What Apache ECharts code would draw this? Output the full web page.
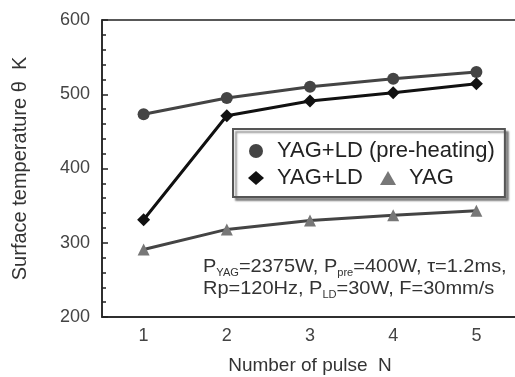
<!DOCTYPE html>
<html><head><meta charset="utf-8">
<script src="https://cdn.jsdelivr.net/npm/echarts@6/dist/echarts.min.js"></script>
<style>html,body{margin:0;padding:0;background:#fff}#c{width:515px;height:377px}</style>
</head><body><div id="c"></div>
<script>
var categories = ['1','2','3','4','5'];
var preHeating = [473, 495, 510, 521, 530];
var yagLd = [331, 471, 491, 502, 514];
var yag = [291, 318, 330, 337, 343];
var yTicks = [200, 300, 400, 500, 600];

var chart = echarts.init(document.getElementById('c'));
var font = 'Liberation Sans, Arial, sans-serif';
chart.setOption({
  animation: false,
  backgroundColor: '#fff',
  grid: {left: 102, top: 20, width: 416, height: 297, outerBoundsMode: 'none', containLabel: false,
         show: true, borderColor: '#222', borderWidth: 1.5, backgroundColor: 'transparent'},
  xAxis: {
    type: 'category', data: categories, boundaryGap: true,
    name: 'Number of pulse  N', nameLocation: 'middle', nameGap: 39,
    nameTextStyle: {fontFamily: font, fontSize: 19, color: '#333'},
    axisLine: {lineStyle: {color: '#222', width: 1.5}},
    axisTick: {inside: true, alignWithLabel: true, length: 5, lineStyle: {color: '#222', width: 1.5}},
    axisLabel: {fontFamily: font, fontSize: 18, color: '#444', margin: 10}
  },
  yAxis: {
    type: 'value', min: yTicks[0], max: yTicks[yTicks.length-1], interval: 100,
    name: 'Surface temperature θ  K', nameLocation: 'middle', nameGap: 72,
    nameTextStyle: {fontFamily: font, fontSize: 20, color: '#333'},
    axisLine: {show: true, lineStyle: {color: '#222', width: 1.5}},
    axisTick: {show: true, inside: true, length: 6, lineStyle: {color: '#222', width: 1.5}},
    minorTick: {show: true, splitNumber: 5, length: 4, lineStyle: {color: '#222', width: 1.5}},
    splitLine: {show: false},
    axisLabel: {fontFamily: font, fontSize: 18, color: '#444', margin: 12}
  },
  legend: {
    left: 233, top: 129, width: 272, orient: 'horizontal', align: 'left',
    padding: [11, 10, 8, 15], itemGap: 5, itemWidth: 16, itemHeight: 14,
    backgroundColor: '#fff', borderColor: '#555', borderWidth: 2,
    shadowColor: 'rgba(0,0,0,0.4)', shadowBlur: 2, shadowOffsetX: 3, shadowOffsetY: 3,
    textStyle: {fontFamily: font, fontSize: 22, color: '#222', padding: [0, 0, 0, 8]},
    formatter: function (name) { return name === 'YAG+LD' ? name + '  ' : name; },
    data: [
      {name: 'YAG+LD (pre-heating)', icon: 'circle'},
      {name: 'YAG+LD', icon: 'diamond'},
      {name: 'YAG', icon: 'triangle'}
    ]
  },
  series: [
    {name: 'YAG+LD (pre-heating)', type: 'line', data: preHeating, symbol: 'circle', symbolSize: 12,
     lineStyle: {color: '#444', width: 3}, itemStyle: {color: '#444'}},
    {name: 'YAG+LD', type: 'line', data: yagLd, symbol: 'diamond', symbolSize: 13,
     lineStyle: {color: '#111', width: 3}, itemStyle: {color: '#111'}},
    {name: 'YAG', type: 'line', data: yag, symbol: 'triangle', symbolSize: 12,
     lineStyle: {color: '#444', width: 3}, itemStyle: {color: '#777'}}
  ],
  graphic: [{
    type: 'text', left: 203, top: 256, scaleX: 1.11,
    style: {
      text: 'P{s|YAG}=2375W, P{s|pre}=400W, τ=1.2ms,\nRp=120Hz, P{s|LD}=30W, F=30mm/s',
      fontFamily: font, fontSize: 18, fill: '#333', lineHeight: 22,
      rich: {s: {fontSize: 10, fill: '#333', verticalAlign: 'bottom', padding: [9, 0, 0, 0]}}
    }
  }]
});
</script></body></html>
